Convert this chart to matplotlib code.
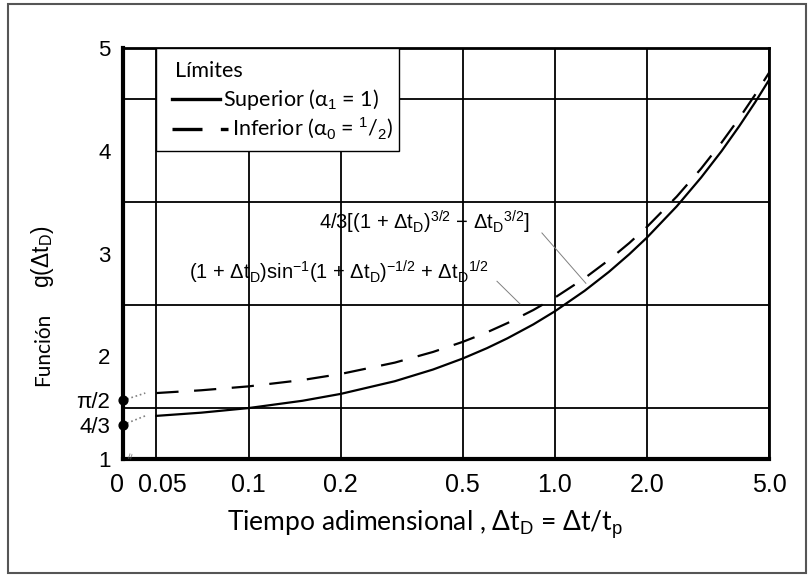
import matplotlib
matplotlib.use("Agg")
import matplotlib.pyplot as plt
from matplotlib.patches import Rectangle
from matplotlib.lines import Line2D
from matplotlib.ticker import NullLocator
from matplotlib.transforms import ScaledTranslation
import numpy as np

plt.rcParams['font.family'] = ['Liberation Sans', 'DejaVu Sans']
plt.rcParams['mathtext.fontset'] = 'custom'
plt.rcParams['mathtext.rm'] = 'Liberation Sans'
plt.rcParams['mathtext.it'] = 'Liberation Sans'
plt.rcParams['mathtext.bf'] = 'Liberation Sans:bold'

# values
dt = [0.05, 0.07, 0.1, 0.15, 0.2, 0.3, 0.4, 0.5, 0.6, 0.7, 0.85, 1.0,
      1.25, 1.5, 1.75, 2.0, 2.5, 3.0, 3.5, 4.0, 4.5, 5.0]
g_sup = [1.420, 1.451, 1.496, 1.567, 1.634, 1.757, 1.871, 1.978, 2.079, 2.175,
         2.310, 2.438, 2.637, 2.821, 2.994, 3.157, 3.460, 3.739, 3.997, 4.241,
         4.470, 4.689]
g_inf = [1.642, 1.669, 1.707, 1.769, 1.828, 1.938, 2.042, 2.140, 2.233, 2.323,
         2.450, 2.571, 2.760, 2.937, 3.103, 3.261, 3.555, 3.826, 4.080, 4.318,
         4.544, 4.759]

x0 = 0.0389  # where the axis shows "0"
x_ticks = [x0, 0.05, 0.1, 0.2, 0.5, 1.0, 2.0, 5.0]
x_labels = ['0', '0.05', '0.1', '0.2', '0.5', '1.0', '2.0', '5.0']
y_ticks = [1, 4 / 3, np.pi / 2, 2, 3, 4, 5]
y_labels = ['1', '4/3', 'π/2', '2', '3', '4', '5']
y_grid = [1.5, 2, 2.5, 3, 3.5, 4, 4.5]
start_vals = [4 / 3, np.pi / 2]

fig = plt.figure(figsize=(8.09, 5.75), dpi=100)
ax = fig.add_axes([0.152, 0.2017, 0.7986, 0.7148])

ax.plot(dt, g_sup, color='black', lw=1.6, zorder=4)
ax.plot(dt, g_inf, color='black', lw=1.6, dashes=(10, 7), zorder=4)

# dotted extensions to the axis
ax.plot([x0, 0.046], [start_vals[0], g_sup[0]], color='gray', lw=1.2, ls=':', zorder=4)
ax.plot([x0, 0.046], [start_vals[1], g_inf[0]], color='gray', lw=1.2, ls=':', zorder=4)
ax.scatter([x0, x0], start_vals, s=40, color='black', zorder=6, clip_on=False)

ax.set_xscale('log')
ax.set_xlim(x0, 5.0)
ax.set_ylim(1, 5)
ax.set_xticks(x_ticks)
ax.set_xticklabels(x_labels)
ax.xaxis.set_minor_locator(NullLocator())
ax.set_yticks(y_ticks)
ax.set_yticklabels(y_labels)
ax.set_yticks(y_grid, minor=True)
ax.tick_params(axis='x', which='both', length=0, labelsize=18, pad=10)
ax.tick_params(axis='y', which='both', length=0, labelsize=16, pad=9)
ax.grid(axis='x', which='major', color='black', lw=1.3)
ax.grid(axis='y', which='minor', color='black', lw=1.3)

# pull "0" and "0.05" apart a little
xl = ax.get_xticklabels()
xl[0].set_transform(xl[0].get_transform() + ScaledTranslation(-4 / 72, 0, fig.dpi_scale_trans))
xl[1].set_transform(xl[1].get_transform() + ScaledTranslation(4 / 72, 0, fig.dpi_scale_trans))

for side in ['left', 'bottom']:
    ax.spines[side].set_linewidth(3)
for side in ['top', 'right']:
    ax.spines[side].set_linewidth(2)

# legend box
ax.add_patch(Rectangle((0.05, 4.0), 0.31 - 0.05, 1.0, facecolor='white',
                       edgecolor='black', lw=1.0, zorder=3))
lfont = ['Lato', 'Liberation Sans', 'DejaVu Sans']
ax.text(0.0805, 0.945, 'Límites', transform=ax.transAxes, family=lfont,
        fontsize=15.5, va='center', ha='left', zorder=5)
ax.add_line(Line2D([0.0759, 0.1502], [0.875, 0.875], transform=ax.transAxes,
                   color='black', lw=2.4, zorder=5))
ax.text(0.155, 0.875, 'Superior (α$_1$ = 1)', transform=ax.transAxes, family=lfont,
        fontsize=15.5, va='center', ha='left', zorder=5)
ax.add_line(Line2D([0.0759, 0.1626], [0.802, 0.802], transform=ax.transAxes,
                   color='black', lw=2.4, dashes=(9, 5.5), zorder=5))
ax.text(0.169, 0.802, 'Inferior (α$_0$ = $^1$/$_2$)', transform=ax.transAxes, family=lfont,
        fontsize=15.5, va='center', ha='left', zorder=5)

# formula labels with leader lines
ax.text(0.3745, 3.30, '4/3[(1 + Δt$_D$)$^{3/2}$ − Δt$_D$$^{3/2}$]', fontsize=14.5,
        ha='center', va='center', zorder=5)
ax.text(0.198, 2.82, '(1 + Δt$_D$)sin$^{-1}$(1 + Δt$_D$)$^{-1/2}$ + Δt$_D$$^{1/2}$',
        fontsize=14.5, ha='center', va='center', zorder=5)
ax.plot([0.907, 1.262], [3.20, 2.71], color='gray', lw=0.7, zorder=4)
ax.plot([0.647, 0.769], [2.73, 2.51], color='gray', lw=0.7, zorder=4)

ax.text(0.0416, 1.03, '≈', fontsize=8, color='gray', rotation=75,
        ha='center', va='center', zorder=5)

fig.text(43 / 809, 1 - 349 / 575, 'Función', family=lfont, fontsize=15,
         rotation=90, ha='center', va='center')
fig.text(43 / 809, 1 - 257 / 575, 'g(Δt$_D$)', fontsize=16.5,
         rotation=90, ha='center', va='center')
fig.text(425 / 809, 1 - 531 / 575, 'Tiempo adimensional , Δt$_D$ = Δt/t$_p$',
         family=lfont, fontsize=19, ha='center', va='baseline')

fig.patches.append(Rectangle((8 / 809, 2 / 575), 798 / 809, 569 / 575,
                             transform=fig.transFigure, fill=False,
                             edgecolor='#555555', lw=1.5))

fig.savefig('out.png', dpi=100)
